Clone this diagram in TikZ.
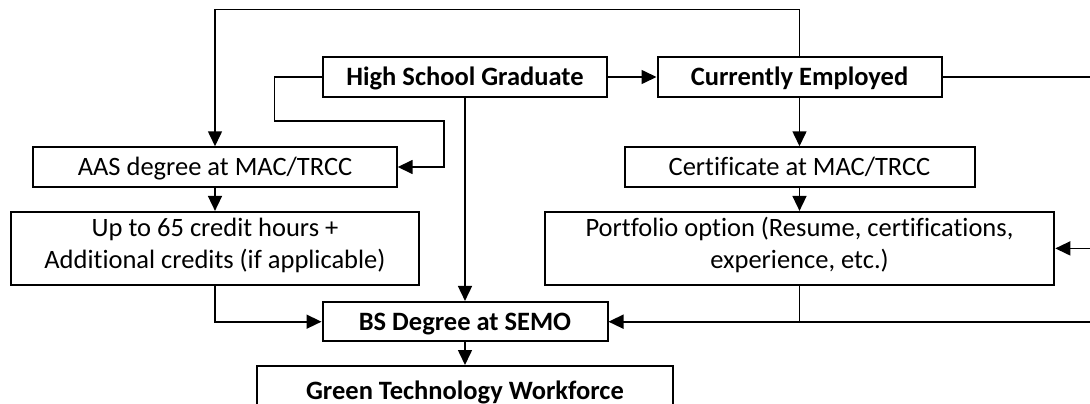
\documentclass[tikz,border=0pt]{standalone}
\usepackage{fontspec}
\setmainfont{Carlito}[Ligatures=NoCommon]
\usetikzlibrary{arrows.meta,positioning}

\begin{document}
\begin{tikzpicture}[
	x=1pt, y=-1pt,
	etape/.style={draw, line width=2pt, inner sep=0pt, minimum height=39.5pt,
		text height=17pt, text depth=0pt, font=\fontsize{26.5}{32.5}\selectfont},
	etapedouble/.style={draw, line width=2pt, inner sep=0pt, minimum height=73pt,
		align=center, text height=49.5pt, text depth=9.3pt, font=\fontsize{26.5}{32.5}\selectfont},
	gras/.style={font=\fontsize{26.5}{32.5}\selectfont\bfseries},
	fleche/.style={line width=1.6pt, -{Triangle[length=15pt, width=14pt]}}, % flèches pleines
	trait/.style={line width=1.6pt}
	]

	\useasboundingbox (0,0) rectangle (1090,404);
	\clip (0,0) rectangle (1090,404);

	% Les boîtes
	\node[etape, gras, minimum width=284.6pt] (lycee) at (465,77) {High School Graduate};
	\node[etape, gras, minimum width=284pt] (emploi) at (799.5,77) {Currently Employed};
	\node[etape, minimum width=363.4pt] (aas) at (215,167) {AAS degree at MAC/TRCC};
	\node[etape, minimum width=350pt] (certif) at (799.5,167) {Certificate at MAC/TRCC};
	\node[etapedouble, minimum width=407.6pt] (credits) at (215,248.4)
		{Up to 65 credit hours +\\Additional credits (if applicable)};
	\node[etapedouble, minimum width=509.6pt] (portfolio) at (799.5,248.4)
		{Portfolio option (Resume, certifications,\\experience, etc.)};
	\node[etape, gras, minimum width=285pt] (bs) at (465,321.7) {BS Degree at SEMO};
	\node[etape, gras, minimum width=416.2pt, minimum height=49pt] (vert) at (465,390.5) {Green Technology Workforce};

	% Les points au bord
	\coordinate (haut) at (215,9.7);
	\coordinate (bordA) at (1090,77);
	\coordinate (bordB) at (1090,248.4);
	\coordinate (bordC) at (1090,321.7);

	% Les flèches
	\draw[fleche] (lycee.east) -- (emploi.west);
	\draw[fleche] (emploi.north) |- (haut) -| (aas.north);
	\draw[fleche] (lycee.west) -- ++(-47.4,0) -- ++(0,44) -- ++(169.7,0) |- (aas.east);
	\draw[fleche] (lycee.south) -- (bs.north);
	\draw[trait] (emploi.east) -- (bordA);
	\draw[fleche] (emploi.south) -- (certif.north);
	\draw[fleche] (certif.south) -- (portfolio.north);
	\draw[fleche] (bordB) -- (portfolio.east);
	\draw[fleche] (aas.south) -- (credits.north);
	\draw[fleche] (credits.south) |- (bs.west);
	\draw[trait] (portfolio.south) -- (portfolio.south |- bs.east);
	\draw[fleche] (bordC) -- (bs.east);
	\draw[fleche] (bs.south) -- (vert.north);
\end{tikzpicture}
\end{document}
